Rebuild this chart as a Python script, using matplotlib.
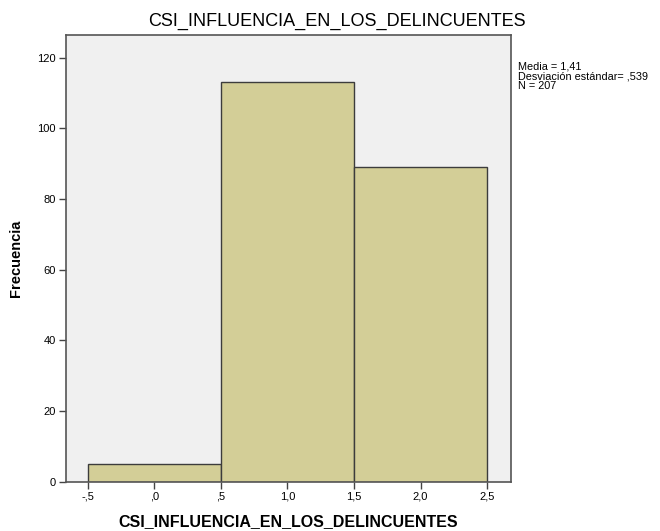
import numpy as np
import matplotlib
matplotlib.use("Agg")
import matplotlib.pyplot as plt

# histogram data (SPSS output)
bin_edges = [-0.5, 0.5, 1.5, 2.5]
counts = [5, 113, 89]
xticks = [-0.5, 0.0, 0.5, 1.0, 1.5, 2.0, 2.5]
xtick_labels = ["-,5", ",0", ",5", "1,0", "1,5", "2,0", "2,5"]
yticks = [0, 20, 40, 60, 80, 100, 120]
var_name = "CSI_INFLUENCIA_EN_LOS_DELINCUENTES"
stats_text = "Media = 1,41\nDesviación estándar= ,539\nN = 207"

plt.rcParams['font.family'] = ['Liberation Sans', 'DejaVu Sans']

fig = plt.figure(figsize=(6.6, 5.31), dpi=100)
ax = fig.add_axes([0.0995, 0.0928, 0.6745, 0.841])
ax.set_facecolor("#f0f0f0")

widths = np.diff(bin_edges)
ax.bar(bin_edges[:-1], counts, width=widths, align="edge",
       color="#d3ce97", edgecolor="#3c3c3c", linewidth=1.0)

ax.set_xlim(-0.665, 2.678)
ax.set_ylim(0, 126.4)
ax.set_xticks(xticks)
ax.set_xticklabels(xtick_labels, fontsize=8)
ax.set_yticks(yticks)
ax.set_yticklabels([str(v) for v in yticks], fontsize=8)
ax.tick_params(direction="out", length=5, color="#444444", width=1, pad=2)

for s in ax.spines.values():
    s.set_color("#555555")
    s.set_linewidth(1.2)

# SPSS puts the title centred over the whole chart, not just the plot area
fig.text(0.511, 0.951, var_name, fontsize=13, ha="center", va="baseline")
ax.set_xlabel(var_name, fontsize=11.5, fontweight="bold", labelpad=9)
ax.set_ylabel("Frecuencia", fontsize=10.5, fontweight="bold", labelpad=10)

fig.text(0.785, 0.885, stats_text, fontsize=7.8, va="top", ha="left",
         linespacing=1.0)

fig.savefig("out.png", dpi=100)
